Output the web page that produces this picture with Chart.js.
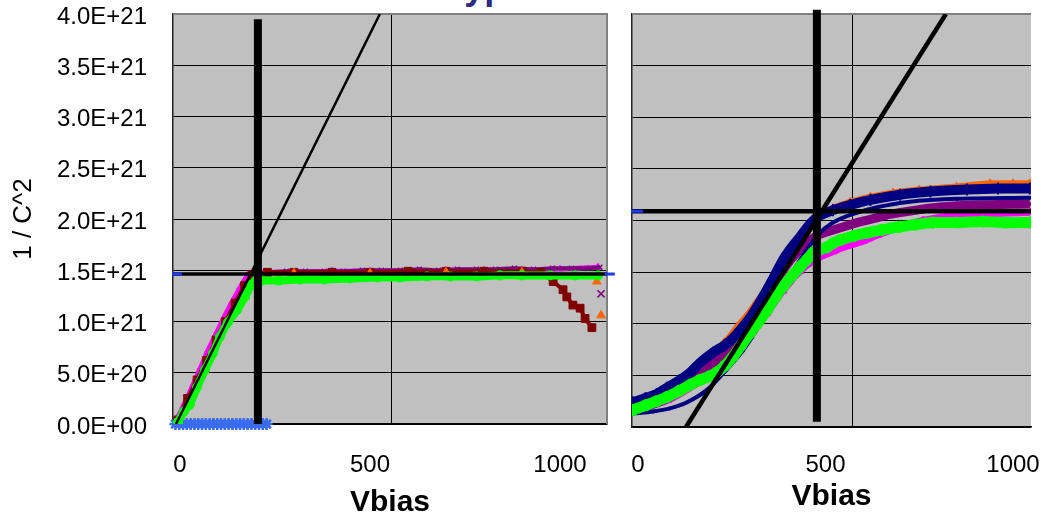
<!DOCTYPE html>
<html>
<head>
<meta charset="utf-8">
<script src="https://cdn.jsdelivr.net/npm/chart.js@4.4.1/dist/chart.umd.min.js"></script>
<style>
  html, body { margin: 0; padding: 0; background: #fff; }
  body { width: 1041px; height: 521px; position: relative; overflow: hidden; }
  #left { position: absolute; left: 0; top: 0; }
  #right { position: absolute; left: 620px; top: 0; }
  #heading {
    position: absolute; left: 445px; top: -31px;
    font: bold 36px "Liberation Sans", Arial, sans-serif;
    line-height: 36px; color: #2b2b80; word-spacing: 15px; white-space: nowrap;
  }
</style>
</head>
<body>
<div id="heading">Types of CVs</div>
<canvas id="left" width="620" height="521"></canvas>
<canvas id="right" width="421" height="521"></canvas>
<script>
// 縦軸は 1E+21 単位
const yTicks = [0, 0.5, 1, 1.5, 2, 2.5, 3, 3.5, 4];
const yTickLabels = ['0.0E+00', '5.0E+20', '1.0E+21', '1.5E+21', '2.0E+21', '2.5E+21', '3.0E+21', '3.5E+21', '4.0E+21'];
const xTicks = [0, 500, 1000];

// ---- 左のグラフ ----
const leftRange = [-18.4, 1123.7];
const leftGridX = [555];

const leftGreenV = [-5, 10, 26, 45, 66, 87, 105, 126, 150, 171, 189, 200, 216, 260, 316, 380, 447, 520, 579, 650, 711, 780, 842, 900, 974, 1040, 1100];
const leftGreenY = [0.02, 0.12, 0.19, 0.36, 0.53, 0.69, 0.85, 0.99, 1.11, 1.24, 1.36, 1.40, 1.40, 1.40, 1.41, 1.41, 1.42, 1.43, 1.43, 1.44, 1.44, 1.44, 1.45, 1.45, 1.45, 1.45, 1.45];

const leftMagentaV = [-8, 12, 33, 53, 74, 95, 116, 137, 158, 178, 195, 230, 300, 400, 500, 600, 700, 800, 900, 1000, 1100];
const leftMagentaY = [0.05, 0.20, 0.37, 0.54, 0.72, 0.88, 1.04, 1.19, 1.33, 1.45, 1.48, 1.48, 1.48, 1.49, 1.49, 1.49, 1.50, 1.50, 1.50, 1.51, 1.53];

const leftPurpleV = [230, 280, 330, 380, 430, 480, 530, 580, 630, 680, 730, 780, 830, 880, 930, 980, 1030, 1080, 1105];
const leftPurpleY = [1.48, 1.49, 1.49, 1.49, 1.49, 1.50, 1.50, 1.50, 1.51, 1.50, 1.51, 1.51, 1.51, 1.52, 1.51, 1.52, 1.52, 1.52, 1.53];

const leftBrownV = [-6, 20, 45, 70, 95, 120, 145, 170, 190, 230, 300, 400, 500, 600, 700, 800, 900, 950, 982, 1008, 1018, 1034, 1053, 1066, 1084];
const leftBrownY = [0.04, 0.25, 0.43, 0.62, 0.82, 1.00, 1.18, 1.35, 1.46, 1.48, 1.48, 1.48, 1.48, 1.49, 1.49, 1.49, 1.49, 1.48, 1.39, 1.31, 1.24, 1.16, 1.13, 1.03, 0.94];

const leftOrangeV = [300, 500, 700, 900, 1097, 1108];
const leftOrangeY = [1.47, 1.47, 1.48, 1.48, 1.39, 1.06];

const leftCrossV = [1108];
const leftCrossY = [1.27];

const leftStarV = [-12, -2, 8, 18, 28, 38, 48, 58, 68, 78, 88, 98, 108, 118, 128, 138, 148, 158, 168, 178, 188, 198, 208, 218, 228];

const leftFitV = [-10.5, 526];
const leftFitY = [0, 4];
const leftVbarV = [205, 205];
const leftVbarY = [0, 3.95];
const leftLevel = 1.463;
const leftDashV = [-8, 1131];

// ---- 右のグラフ ----
const rightRange = [-16, 1048];
const rightGridX = [571];

const rightGreenV = [-13, 20, 50, 77, 110, 140, 165, 190, 211, 233, 253, 275, 299, 320, 344, 365, 387, 410, 432, 450, 467, 485, 504, 520, 539, 575, 611, 650, 699, 740, 787, 850, 920, 980, 1045];
const rightGreenY = [0.165, 0.21, 0.25, 0.29, 0.35, 0.41, 0.455, 0.49, 0.53, 0.60, 0.68, 0.79, 0.91, 1.01, 1.13, 1.25, 1.36, 1.46, 1.55, 1.62, 1.69, 1.72, 1.74, 1.78, 1.81, 1.85, 1.88, 1.91, 1.94, 1.96, 1.98, 1.98, 1.99, 1.98, 1.98];

const rightNavyV = [-13, 20, 50, 77, 110, 140, 165, 200, 230, 253, 275, 299, 320, 344, 365, 387, 410, 432, 455, 477, 520, 565, 620, 699, 780, 877, 960, 1045];
const rightNavyY = [0.24, 0.28, 0.32, 0.38, 0.45, 0.53, 0.62, 0.72, 0.79, 0.86, 0.95, 1.06, 1.18, 1.33, 1.47, 1.62, 1.74, 1.84, 1.95, 2.03, 2.10, 2.15, 2.20, 2.25, 2.28, 2.30, 2.31, 2.31];

const rightNavyLowV = [-13, 40, 85, 131, 184, 230, 280, 320, 360, 400, 440, 480, 520, 570, 640, 720, 850, 1045];
const rightNavyLowY = [0.13, 0.15, 0.18, 0.24, 0.36, 0.53, 0.74, 0.96, 1.20, 1.44, 1.66, 1.86, 1.98, 2.06, 2.13, 2.18, 2.21, 2.22];

const rightOrangeV = [-13, 40, 100, 165, 230, 264, 290, 310, 330, 350, 370, 390, 410, 424, 455, 485, 520, 565, 620, 680, 750, 850, 939, 1000, 1045];
const rightOrangeY = [0.22, 0.30, 0.42, 0.63, 0.82, 0.97, 1.08, 1.18, 1.28, 1.40, 1.52, 1.63, 1.74, 1.83, 1.96, 2.05, 2.12, 2.18, 2.23, 2.27, 2.30, 2.33, 2.36, 2.36, 2.36];

const rightPurpleV = [-13, 40, 100, 165, 230, 253, 299, 344, 387, 432, 477, 531, 584, 630, 672, 740, 805, 900, 1045];
const rightPurpleY = [0.17, 0.22, 0.32, 0.50, 0.72, 0.80, 1.00, 1.26, 1.52, 1.72, 1.85, 1.92, 1.98, 2.02, 2.06, 2.10, 2.13, 2.15, 2.16];

const rightMagentaV = [-13, 80, 165, 253, 299, 344, 387, 432, 477, 520, 557, 600, 640, 700, 760, 820, 893, 970, 1045];
const rightMagentaY = [0.15, 0.26, 0.44, 0.66, 0.88, 1.10, 1.32, 1.51, 1.63, 1.70, 1.75, 1.80, 1.86, 1.94, 2.00, 2.04, 2.06, 2.07, 2.08];

const rightFitV = [128, 821];
const rightFitY = [0, 4];
const rightVbarV = [477, 477];
const rightVbarY = [0.05, 4.04];
const rightLevel = 2.09;
const rightDashV = [-3];

const pts = (xs, ys) => xs.map((x, i) => ({ x: x, y: ys[i] }));
const flat = (xs, y) => xs.map(x => ({ x: x, y: y }));

Chart.defaults.font.family = '"Liberation Sans", Arial, sans-serif';
Chart.defaults.color = '#000';

// 灰色の背景、縦のグリッド線、枠
const plotFrame = {
  id: 'plotFrame',
  beforeDraw(chart, args, opts) {
    const { ctx, chartArea: a } = chart;
    const x = chart.scales.x;
    ctx.save();
    ctx.fillStyle = '#c0c0c0';
    ctx.fillRect(a.left, a.top, a.right - a.left, a.bottom - a.top);
    ctx.strokeStyle = '#000';
    ctx.lineWidth = 1;
    opts.gridX.forEach(v => {
      const px = Math.round(x.getPixelForValue(v)) + 0.5;
      ctx.beginPath();
      ctx.moveTo(px, a.top);
      ctx.lineTo(px, a.bottom);
      ctx.stroke();
    });
    ctx.restore();
  },
  beforeDatasetsDraw(chart, args, opts) {
    const { ctx, chartArea: a } = chart;
    ctx.save();
    ctx.strokeStyle = '#808080';
    ctx.lineWidth = 2;
    ctx.beginPath();
    ctx.moveTo(a.left, a.top);
    ctx.lineTo(a.right, a.top);
    if (opts.rightEdge) ctx.lineTo(a.right, a.bottom);
    ctx.stroke();
    ctx.restore();
  }
};

function makeOptions(range, gridX, cfg) {
  return {
    responsive: false,
    animation: false,
    devicePixelRatio: 1,
    layout: { padding: { left: 0, top: 14, right: cfg.padRight, bottom: 0 } },
    plugins: {
      legend: { display: false },
      tooltip: { enabled: false },
      plotFrame: { gridX: gridX, rightEdge: cfg.rightEdge }
    },
    scales: {
      x: {
        type: 'linear',
        min: range[0],
        max: range[1],
        afterBuildTicks: s => { s.ticks = xTicks.map(v => ({ value: v })); },
        afterFit: s => { s.height = cfg.xHeight; s.paddingLeft = 0; s.paddingRight = 0; },
        grid: { display: false },
        border: { display: true, color: '#000', width: 1.5 },
        ticks: { font: { size: 24 }, padding: cfg.xPad, maxRotation: 0, autoSkip: false, callback: v => String(v) },
        title: { display: true, text: 'Vbias', font: { size: 30, weight: 'bold' }, padding: { top: 0, bottom: cfg.titlePad } }
      },
      y: {
        min: 0,
        max: 4,
        afterBuildTicks: s => { s.ticks = yTicks.map(v => ({ value: v })); },
        afterFit: s => { s.width = cfg.yWidth; s.paddingTop = 0; s.paddingBottom = 0; },
        grid: { color: c => (c.tick && c.tick.value === 4 ? '#808080' : '#000'), lineWidth: 1, drawTicks: false },
        border: { display: true, color: '#222', width: 1.5 },
        ticks: { display: cfg.yLabels, font: { size: 24 }, padding: 26, labelOffset: 3, callback: (v, i) => yTickLabels[i] },
        title: { display: cfg.yLabels, text: '1 / C^2', font: { size: 26 }, padding: { top: 8, bottom: 0 } }
      }
    }
  };
}

const marker = (label, data, color, style, r, extra) => Object.assign({
  label: label, data: data, showLine: false,
  pointStyle: style, pointRadius: r, pointBackgroundColor: color, pointBorderColor: color,
  pointBorderWidth: 1, borderColor: color, backgroundColor: color
}, extra || {});

const band = (label, data, color, style, r, w, extra) => marker(label, data, color, style, r,
  Object.assign({ showLine: true, borderWidth: w, tension: 0.3 }, extra || {}));

const line = (label, data, w, extra) => Object.assign({
  label: label, data: data, showLine: true, borderColor: '#000', borderWidth: w, pointRadius: 0
}, extra || {});

new Chart(document.getElementById('left'), {
  type: 'scatter',
  data: {
    datasets: [
      marker('dash', flat(leftDashV, leftLevel), '#1a3cff', 'line', 5, { pointBorderWidth: 3, clip: false }),
      line('fit', pts(leftFitV, leftFitY), 2.5),
      line('Vdep', pts(leftVbarV, leftVbarY), 8),
      line('level', flat(leftRange, leftLevel), 3.5),
      band('green', pts(leftGreenV, leftGreenY), '#00ff00', 'circle', 4.5, 8),
      marker('star', flat(leftStarV, 0), '#3a6cf0', 'star', 6, { pointBorderWidth: 2.5, clip: false }),
      marker('cross', pts(leftCrossV, leftCrossY), '#800080', 'crossRot', 5, { pointBorderWidth: 1.5 }),
      marker('orange', pts(leftOrangeV, leftOrangeY), '#ff6600', 'triangle', 5),
      band('brown', pts(leftBrownV, leftBrownY), '#800000', 'rect', 5.5, 4, { tension: 0 }),
      band('purple', pts(leftPurpleV, leftPurpleY), '#800080', 'crossRot', 3.5, 4, { pointBorderWidth: 1.5 }),
      band('magenta', pts(leftMagentaV, leftMagentaY), '#ff00ff', 'triangle', 4, 5)
    ]
  },
  options: makeOptions(leftRange, leftGridX, { padRight: 13, xHeight: 97, xPad: 18.6, titlePad: 0, yWidth: 173, yLabels: true, rightEdge: true }),
  plugins: [plotFrame]
});

new Chart(document.getElementById('right'), {
  type: 'scatter',
  data: {
    datasets: [
      marker('dash', flat(rightDashV, rightLevel), '#1a3cff', 'line', 6, { pointBorderWidth: 3, clip: false }),
      line('fit', pts(rightFitV, rightFitY), 4.5),
      line('Vdep', pts(rightVbarV, rightVbarY), 8, { clip: false }),
      line('level', flat(rightRange, rightLevel), 4.5),
      band('green', pts(rightGreenV, rightGreenY), '#00ff00', 'circle', 5.5, 11),
      band('navyLow', pts(rightNavyLowV, rightNavyLowY), '#000080', 'circle', 1.5, 4),
      band('navy', pts(rightNavyV, rightNavyY), '#000080', 'line', 6, 10, { pointRotation: 90, pointBorderWidth: 2 }),
      band('orange', pts(rightOrangeV, rightOrangeY), '#ff6600', 'triangle', 4.5, 6),
      band('purple', pts(rightPurpleV, rightPurpleY), '#800080', 'crossRot', 4, 9, { pointBorderWidth: 1.5 }),
      band('magenta', pts(rightMagentaV, rightMagentaY), '#ff00ff', 'triangle', 4.5, 7)
    ]
  },
  options: makeOptions(rightRange, rightGridX, { padRight: 10, xHeight: 94, xPad: 15.6, titlePad: 6, yWidth: 12, yLabels: false, rightEdge: false }),
  plugins: [plotFrame]
});
</script>
</body>
</html>
